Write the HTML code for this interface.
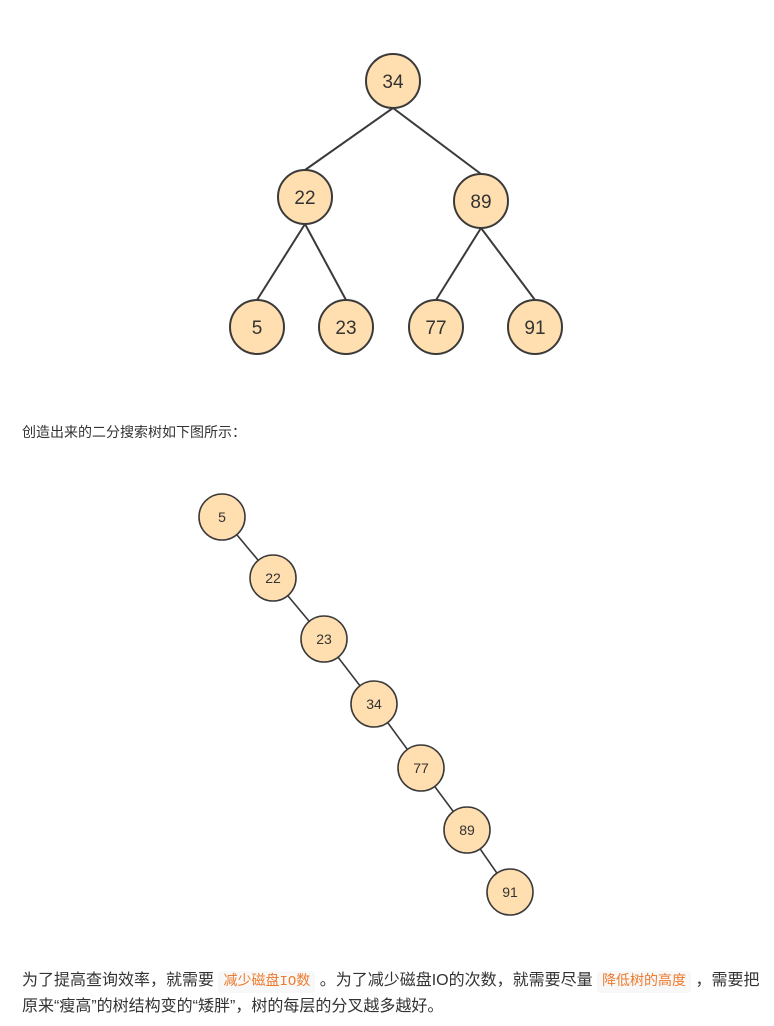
<!DOCTYPE html>
<html><head><meta charset="utf-8"><style>
body{margin:0;width:774px;height:1026px;background:#fff;position:relative;font-family:"Liberation Sans","Noto Sans CJK SC",sans-serif;color:#333;}
svg{position:absolute;left:0;top:0}
.t{position:absolute;left:22px;font-size:16px;white-space:nowrap}
code{font-family:"Liberation Mono","Noto Sans CJK SC",monospace;color:#ef7a2d;background:#f8f8f8;padding:3px 5px;font-size:14px;border-radius:3px}
</style></head><body>
<svg width="774" height="1026" font-family="Liberation Sans, sans-serif" fill="#333">
<g stroke="#3a3a3a" stroke-width="2">
<line x1="393" y1="108" x2="305" y2="170"/><line x1="393" y1="108" x2="481" y2="174"/>
<line x1="305" y1="224" x2="257" y2="300"/><line x1="305" y1="224" x2="346" y2="300"/>
<line x1="481" y1="228" x2="436" y2="300"/><line x1="481" y1="228" x2="535" y2="300"/>
<polyline fill="none" points="222,517 273,578 324,639 374,704 421,768 467,830 510,892" stroke-width="1.6"/>
</g>
<g fill="#ffdeb0" stroke="#3a3a3a" stroke-width="2">
<circle cx="393" cy="81" r="27"/><circle cx="305" cy="197" r="27"/><circle cx="481" cy="201" r="27"/>
<circle cx="257" cy="327" r="27"/><circle cx="346" cy="327" r="27"/><circle cx="436" cy="327" r="27"/><circle cx="535" cy="327" r="27"/>
</g>
<g fill="#ffdeb0" stroke="#3a3a3a" stroke-width="1.6">
<circle cx="222" cy="517" r="23"/><circle cx="273" cy="578" r="23"/><circle cx="324" cy="639" r="23"/><circle cx="374" cy="704" r="23"/><circle cx="421" cy="768" r="23"/><circle cx="467" cy="830" r="23"/><circle cx="510" cy="892" r="23"/>
</g>
<g font-size="19" text-anchor="middle" fill="#333">
<text x="393" y="88">34</text><text x="305" y="204">22</text><text x="481" y="208">89</text>
<text x="257" y="334">5</text><text x="346" y="334">23</text><text x="436" y="334">77</text><text x="535" y="334">91</text>
</g>
<g font-size="14" text-anchor="middle" fill="#333">
<text x="222" y="522">5</text><text x="273" y="583">22</text><text x="324" y="644">23</text><text x="374" y="709">34</text><text x="421" y="773">77</text><text x="467" y="835">89</text><text x="510" y="897">91</text>
</g>
</svg>
<div class="t" style="top:422px;font-size:14px">创造出来的二分搜索树如下图所示：</div>
<div class="t" style="top:966px">为了提高查询效率，就需要 <code>减少磁盘IO数</code> 。为了减少磁盘IO的次数，就需要尽量 <code>降低树的高度</code> ，需要把</div>
<div class="t" style="top:992px">原来“瘦高”的树结构变的“矮胖”，树的每层的分叉越多越好。</div>
</body></html>
